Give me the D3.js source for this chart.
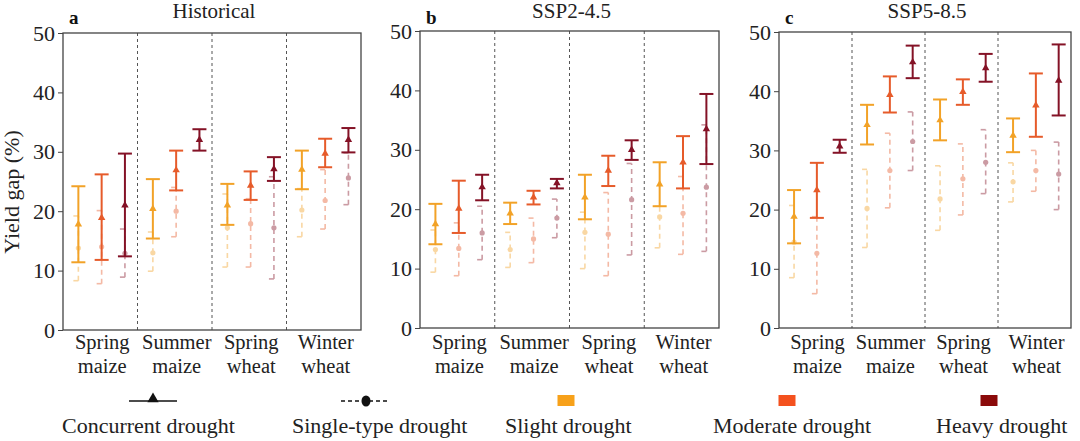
<!DOCTYPE html>
<html><head><meta charset="utf-8">
<script src="https://cdn.jsdelivr.net/npm/d3@7"></script>
<style>body{margin:0;background:#fff}svg{display:block}</style>
</head><body><svg id="c" width="1080" height="441"></svg>
<script>
const panelTitles = ["Historical", "SSP2-4.5", "SSP5-8.5"];
const panelLetters = ["a", "b", "c"];
const crops = ["Spring maize", "Summer maize", "Spring wheat", "Winter wheat"];
const levels = ["Slight drought", "Moderate drought", "Heavy drought"];
const yTicks = [0, 10, 20, 30, 40, 50];

// Concurrent drought: [crop][level]
const histConcMean = [[17.8,18.9,21.0],[20.4,26.9,32.0],[21.0,24.3,27.1],[27.0,29.7,32.0]];
const histConcLow  = [[11.4,11.8,12.4],[15.4,23.5,30.2],[17.7,21.9,25.1],[23.7,27.4,29.9]];
const histConcHigh = [[24.2,26.2,29.7],[25.4,30.2,33.8],[24.6,26.7,29.1],[30.2,32.2,34.0]];
// Single-type drought
const histSingMean = [[13.8,14.0,12.9],[13.0,20.0,null],[17.2,17.9,17.2],[20.2,21.8,25.6]];
const histSingLow  = [[8.3,7.8,8.9],[9.9,15.7,null],[10.6,10.6,8.6],[15.7,17.0,21.1]];
const histSingHigh = [[19.2,20.1,17.0],[16.5,24.0,null],[22.9,22.1,25.8],[23.8,27.0,29.8]];

const ssp245ConcMean = [[17.5,20.1,23.7],[19.3,22.0,24.4],[22.0,26.5,30.0],[24.2,27.9,33.5]];
const ssp245ConcLow  = [[14.1,16.0,21.5],[17.5,20.8,23.5],[18.3,23.9,28.3],[20.5,23.5,27.6]];
const ssp245ConcHigh = [[20.9,24.8,25.8],[21.1,23.1,25.1],[25.8,29.0,31.6],[27.9,32.3,39.4]];
const ssp245SingMean = [[13.2,13.4,16.0],[13.2,15.0,18.5],[16.1,15.8,21.6],[18.7,19.3,23.7]];
const ssp245SingLow  = [[9.4,8.8,11.5],[10.2,11.0,15.2],[10.0,8.8,12.3],[13.5,12.4,12.9]];
const ssp245SingHigh = [[16.5,17.7,20.5],[16.1,18.5,21.7],[19.5,22.8,27.7],[20.5,25.5,34.2]];

const ssp585ConcMean = [[18.8,23.3,30.7],[34.3,39.4,44.9],[35.1,39.9,43.9],[32.5,37.6,41.8]];
const ssp585ConcLow  = [[14.3,18.6,29.6],[31.0,36.4,42.2],[31.7,37.7,41.6],[29.7,32.3,35.9]];
const ssp585ConcHigh = [[23.3,27.9,31.8],[37.7,42.5,47.7],[38.6,42.0,46.3],[35.4,43.0,47.9]];
const ssp585SingMean = [[14.5,12.6,null],[20.2,26.6,31.5],[21.8,25.2,28.0],[24.7,26.6,26.0]];
const ssp585SingLow  = [[8.5,5.8,null],[13.6,20.3,26.6],[16.5,19.1,22.7],[21.3,23.1,20.0]];
const ssp585SingHigh = [[20.7,18.8,null],[26.8,32.9,36.5],[27.4,31.1,33.5],[27.9,30.0,31.4]];

const legendItems = ["Concurrent drought", "Single-type drought", "Slight drought", "Moderate drought", "Heavy drought"];

// ---- styles / layout ----
const FONT = '"Liberation Serif", "DejaVu Serif", serif';
const barColors = ["#F2A227", "#E65B2A", "#841226"];
const legendColors = ["#F7A11A", "#F4511E", "#8B0A0A"];
const panelBoxes = [
  {l: 63, r: 361, t: 33, b: 330},
  {l: 420, r: 719, t: 31, b: 328},
  {l: 779, r: 1071, t: 32, b: 328}
];
const panelData = [
  [histConcMean, histConcLow, histConcHigh, histSingMean, histSingLow, histSingHigh],
  [ssp245ConcMean, ssp245ConcLow, ssp245ConcHigh, ssp245SingMean, ssp245SingLow, ssp245SingHigh],
  [ssp585ConcMean, ssp585ConcLow, ssp585ConcHigh, ssp585SingMean, ssp585SingLow, ssp585SingHigh]
];

const svg = d3.select("#c");
svg.append("rect").attr("width",1080).attr("height",441).attr("fill","#fff");

panelBoxes.forEach((box, p) => {
  const g = svg.append("g");
  const x = d3.scaleBand().domain(crops).range([box.l, box.r]).paddingInner(0).paddingOuter(0);
  const xi = d3.scalePoint().domain(levels).range([0, x.bandwidth()]).padding(0.6).align(0.55);
  const y = d3.scaleLinear().domain([0, 50]).range([box.b, box.t]);
  const [cM, cL, cH, sM, sL, sH] = panelData[p];

  crops.slice(1).forEach(c => {
    g.append("line").attr("x1", x(c)).attr("x2", x(c)).attr("y1", box.t).attr("y2", box.b)
      .attr("stroke", "#555").attr("stroke-width", 1).attr("stroke-dasharray", "3,3");
  });

  crops.forEach((c, ci) => {
    levels.forEach((lv, li) => {
      if (sM[ci][li] == null) return;
      const cx = x(c) + xi(lv);
      const col = barColors[li];
      const sg = g.append("g").attr("opacity", 0.42);
      sg.append("line").attr("x1", cx).attr("x2", cx).attr("y1", y(sL[ci][li])).attr("y2", y(sH[ci][li]))
        .attr("stroke", col).attr("stroke-width", 1.6).attr("stroke-dasharray", "5,4");
      [sL[ci][li], sH[ci][li]].forEach(v => {
        sg.append("line").attr("x1", cx - 5).attr("x2", cx).attr("y1", y(v)).attr("y2", y(v))
          .attr("stroke", col).attr("stroke-width", 1.6);
      });
      sg.append("circle").attr("cx", cx).attr("cy", y(sM[ci][li])).attr("r", 2.6).attr("fill", col);
    });
  });

  crops.forEach((c, ci) => {
    levels.forEach((lv, li) => {
      const cx = x(c) + xi(lv);
      const col = barColors[li];
      g.append("line").attr("x1", cx).attr("x2", cx).attr("y1", y(cL[ci][li])).attr("y2", y(cH[ci][li]))
        .attr("stroke", col).attr("stroke-width", 2);
      [cL[ci][li], cH[ci][li]].forEach(v => {
        g.append("line").attr("x1", cx - 7).attr("x2", cx + 7).attr("y1", y(v)).attr("y2", y(v))
          .attr("stroke", col).attr("stroke-width", 2);
      });
      g.append("path").attr("d", d3.symbol(d3.symbolTriangle, 24)())
        .attr("transform", `translate(${cx},${y(cM[ci][li])})`).attr("fill", col);
    });
  });

  g.append("rect").attr("x", box.l).attr("y", box.t).attr("width", box.r - box.l).attr("height", box.b - box.t)
    .attr("fill", "none").attr("stroke", "#444").attr("stroke-width", 1.3);

  const ax = g.append("g").attr("transform", `translate(${box.l},0)`)
    .call(d3.axisLeft(y).tickValues(yTicks).tickSize(5).tickPadding(3));
  ax.attr("font-family", FONT).attr("font-size", 22);
  ax.select(".domain").remove();
  ax.selectAll("line").attr("stroke", "#444");
  ax.selectAll("text").attr("fill", "#222");

  crops.forEach(c => {
    const words = c.split(" ");
    const cxl = x(c) + x.bandwidth() / 2 + 2;
    const t = g.append("text").attr("text-anchor", "middle").attr("font-family", FONT)
      .attr("font-size", 20.5).attr("fill", "#222");
    t.append("tspan").attr("x", cxl).attr("y", 349).text(words[0]);
    t.append("tspan").attr("x", cxl).attr("y", 373).text(words[1]);
  });

  g.append("text").attr("x", (box.l + box.r) / 2 + 2).attr("y", 18).attr("text-anchor", "middle")
    .attr("font-family", FONT).attr("font-size", 21).attr("fill", "#222").text(panelTitles[p]);
  g.append("text").attr("x", box.l + 6).attr("y", 24).attr("font-family", FONT).attr("font-size", 19)
    .attr("font-weight", "bold").attr("fill", "#111").text(panelLetters[p]);
});

svg.append("text").attr("transform", "translate(19,192) rotate(-90)").attr("text-anchor", "middle")
  .attr("font-family", FONT).attr("font-size", 22).attr("fill", "#222").text("Yield gap (%)");

const lg = svg.append("g");
const ly = 401, lty = 433;
lg.append("line").attr("x1", 129).attr("x2", 177).attr("y1", ly).attr("y2", ly).attr("stroke", "#111").attr("stroke-width", 1.5);
lg.append("path").attr("d", d3.symbol(d3.symbolTriangle, 55)()).attr("transform", `translate(153,${ly - 2})`).attr("fill", "#111");
lg.append("line").attr("x1", 341).attr("x2", 389).attr("y1", ly).attr("y2", ly).attr("stroke", "#111")
  .attr("stroke-width", 1.3).attr("stroke-dasharray", "4,3");
lg.append("ellipse").attr("cx", 366).attr("cy", ly).attr("rx", 4.5).attr("ry", 5.5).attr("fill", "#111");
[566, 787, 989].forEach((cx, i) => {
  lg.append("rect").attr("x", cx - 8.5).attr("y", ly - 6).attr("width", 17).attr("height", 11).attr("fill", legendColors[i]);
});
const lxs = [62, 292, 505, 713, 936];
legendItems.forEach((t, i) => {
  lg.append("text").attr("x", lxs[i]).attr("y", lty).attr("font-family", FONT).attr("font-size", 22)
    .attr("fill", "#222").text(t);
});
</script></body></html>
